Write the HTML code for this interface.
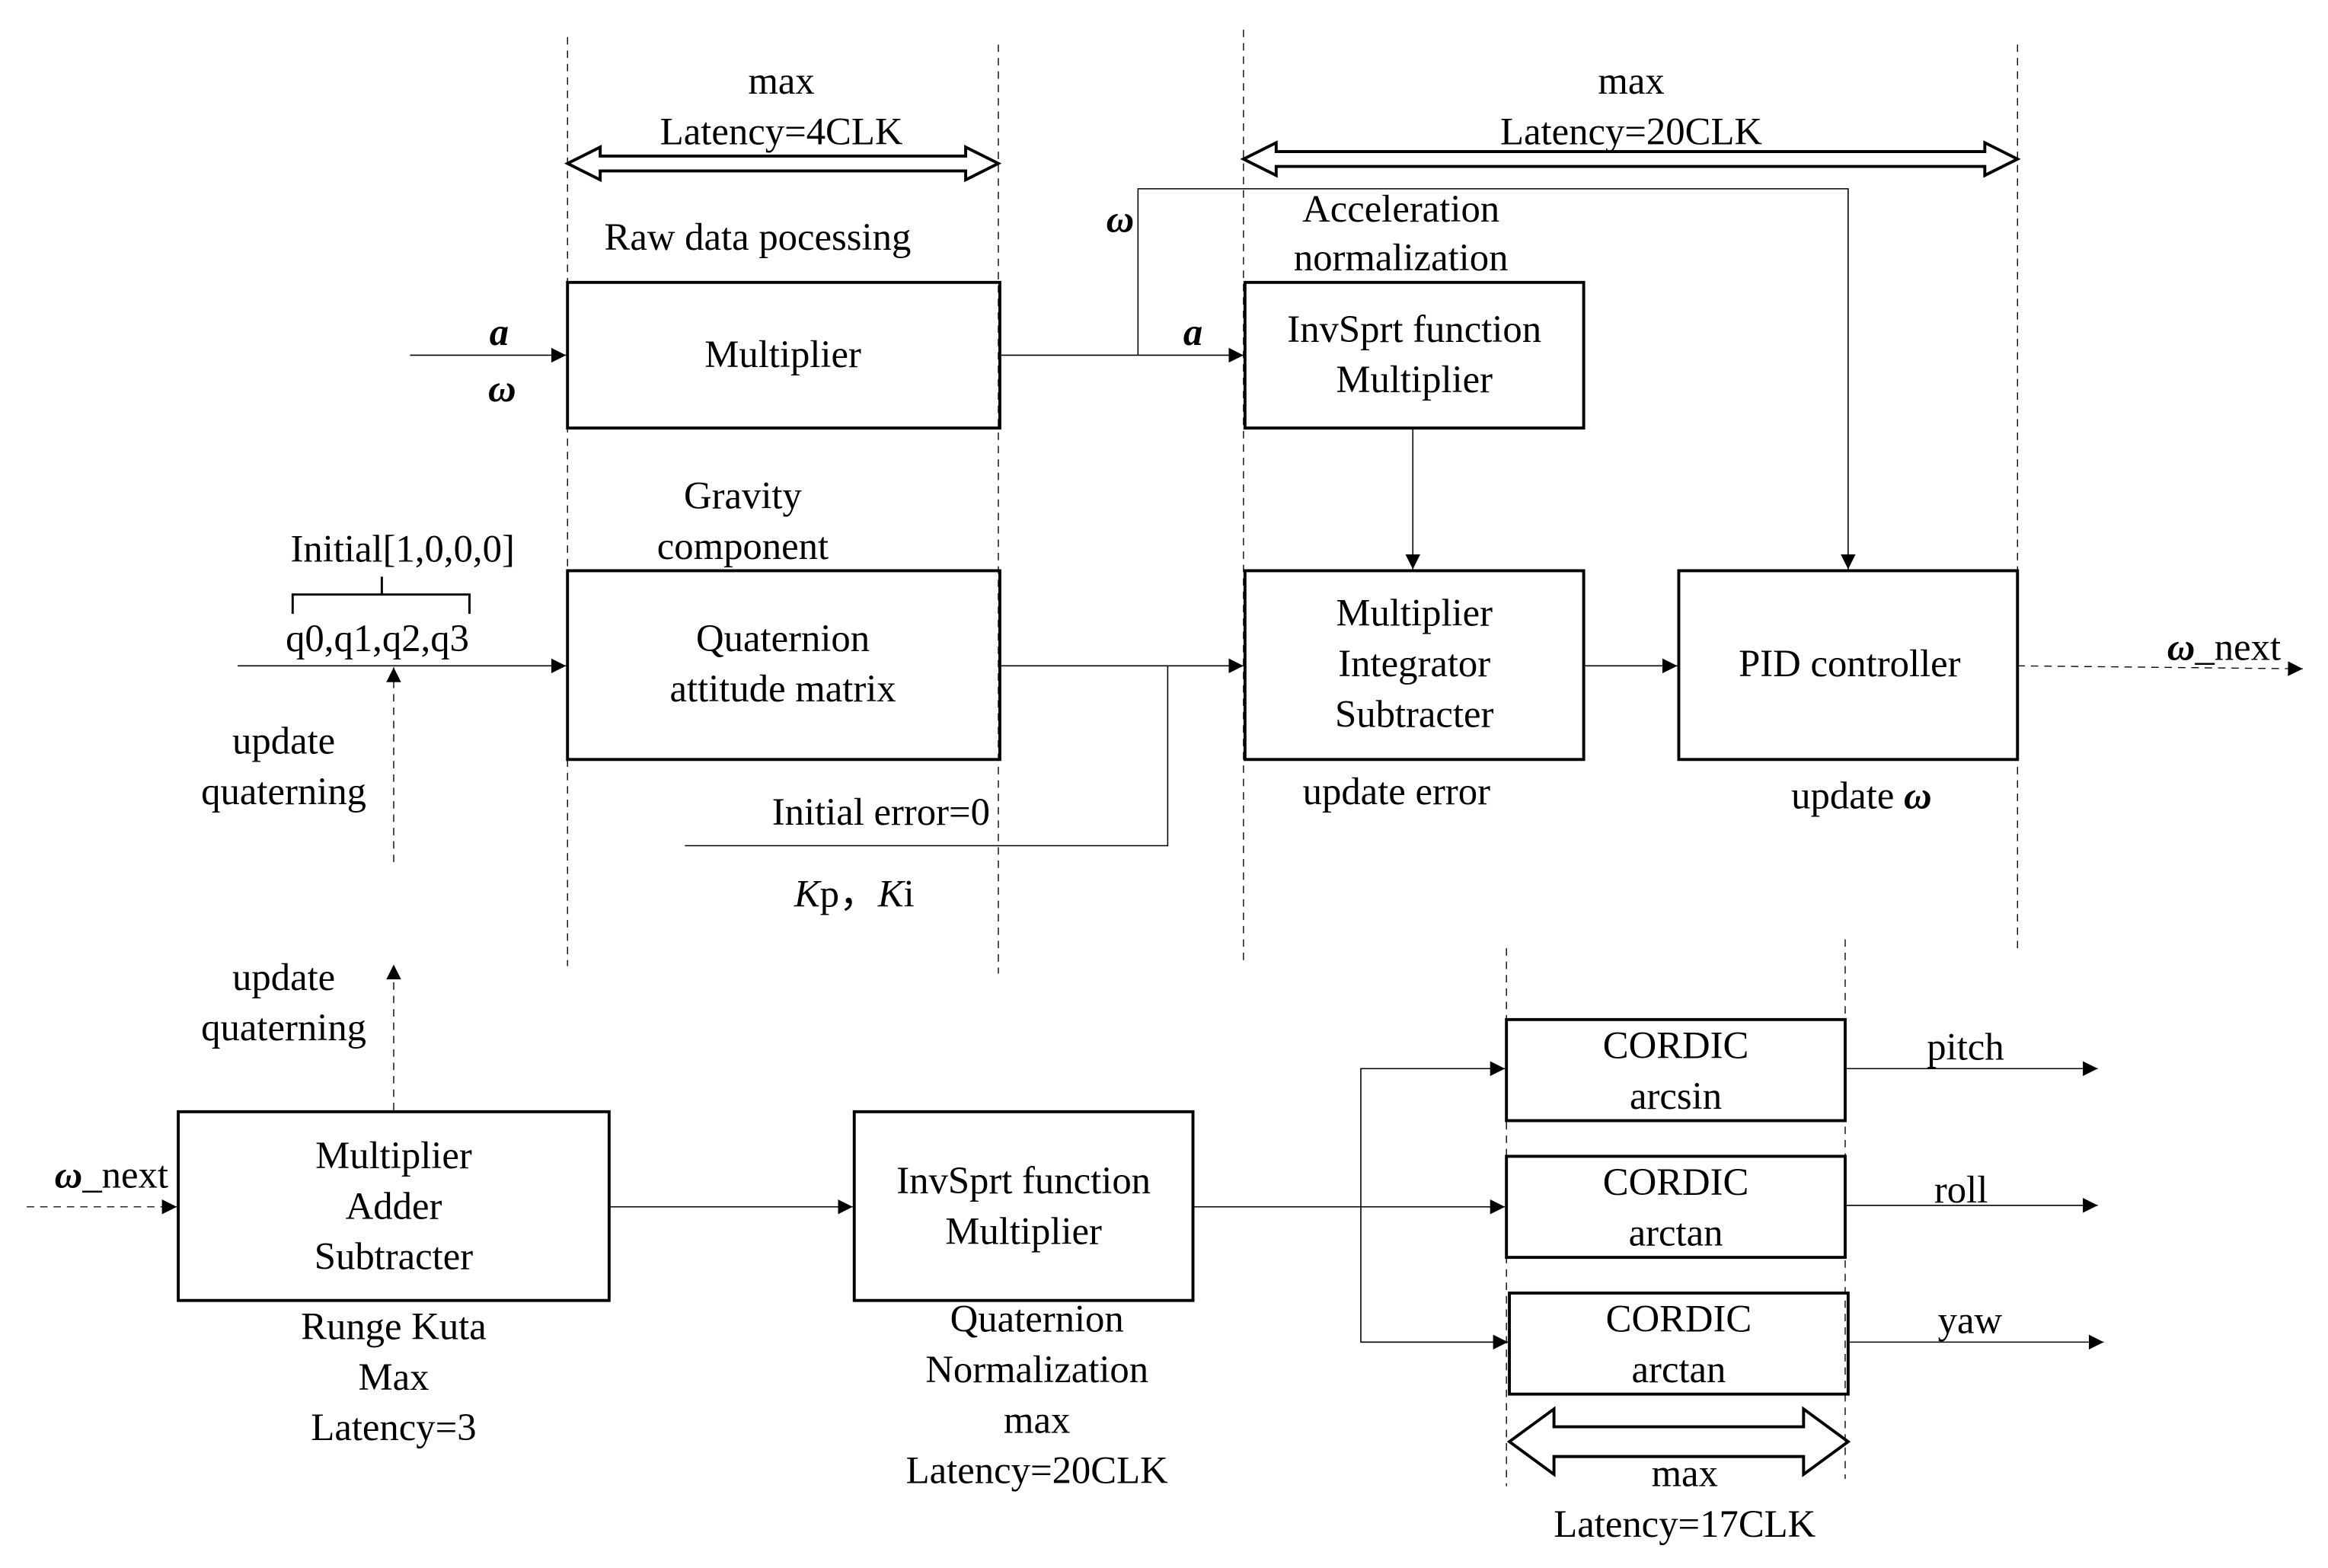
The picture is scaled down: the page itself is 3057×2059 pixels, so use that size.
<!DOCTYPE html>
<html><head><meta charset="utf-8"><style>html,body{margin:0;padding:0;background:#fff}svg{display:block}text{font-family:"Liberation Serif",serif;font-size:26px;text-anchor:middle;fill:#000}.bi{font-weight:bold;font-style:italic}</style></head>
<body>
<svg width="3057" height="2059" viewBox="0 0 1567 1055" preserveAspectRatio="none" xmlns="http://www.w3.org/2000/svg">
<defs><marker id="ah" viewBox="0 0 10 10" refX="10" refY="5" markerWidth="10" markerHeight="10" markerUnits="userSpaceOnUse" orient="auto"><path d="M0,0L10,5L0,10z" fill="#000"/></marker></defs>
<g stroke="#000" stroke-width="0.7" stroke-dasharray="5,4" fill="none">
<line x1="382" y1="25" x2="382" y2="650"/><line x1="672" y1="30" x2="672" y2="655"/>
<line x1="837" y1="20" x2="837" y2="648"/><line x1="1358" y1="30" x2="1358" y2="640"/>
<line x1="1014" y1="638" x2="1014" y2="1000"/><line x1="1242" y1="632" x2="1242" y2="995"/>
<line x1="265" y1="580" x2="265" y2="449" marker-end="url(#ah)"/>
<line x1="265" y1="747" x2="265" y2="649" marker-end="url(#ah)"/>
<line x1="1358" y1="448" x2="1550" y2="450" marker-end="url(#ah)"/>
<line x1="18" y1="812" x2="119" y2="812" marker-end="url(#ah)"/>
</g>
<g stroke="#000" stroke-width="2" fill="none">
<path d="M382,110 L404,99 L404,105 L650,105 L650,99 L672,110 L650,121 L650,115 L404,115 L404,121 Z"/>
<path d="M837,107 L859,96 L859,102 L1336,102 L1336,96 L1358,107 L1336,118 L1336,112 L859,112 L859,118 Z"/>
<path d="M1016,970 L1046,948 L1046,960 L1214,960 L1214,948 L1244,970 L1214,992 L1214,980 L1046,980 L1046,992 Z"/>
<rect x="382" y="190" width="291" height="98"/>
<rect x="838" y="190" width="228" height="98"/>
<rect x="382" y="384" width="291" height="127"/>
<rect x="838" y="384" width="228" height="127"/>
<rect x="1130" y="384" width="228" height="127"/>
<rect x="120" y="748" width="290" height="127"/>
<rect x="575" y="748" width="228" height="127"/>
<rect x="1014" y="686" width="228" height="68"/>
<rect x="1014" y="778" width="228" height="68"/>
<rect x="1016" y="870" width="228" height="68"/>
<path d="M197,413 V400 H316 V413 M257,400 V388" stroke-width="1.5"/>
</g>
<g stroke="#000" stroke-width="0.8" fill="none">
<line x1="276" y1="239" x2="381" y2="239" marker-end="url(#ah)"/>
<line x1="673" y1="239" x2="837" y2="239" marker-end="url(#ah)"/>
<path d="M766,239 V127 H1244 V383" marker-end="url(#ah)"/>
<line x1="951" y1="288" x2="951" y2="383" marker-end="url(#ah)"/>
<line x1="160" y1="448" x2="381" y2="448" marker-end="url(#ah)"/>
<line x1="673" y1="448" x2="837" y2="448" marker-end="url(#ah)"/>
<path d="M461,569 H786 V448"/>
<line x1="1066" y1="448" x2="1129" y2="448" marker-end="url(#ah)"/>
<line x1="410" y1="812" x2="574" y2="812" marker-end="url(#ah)"/>
<line x1="803" y1="812" x2="1013" y2="812" marker-end="url(#ah)"/>
<path d="M1013,719 H916 V903 H1015" />
<line x1="916" y1="719" x2="1013" y2="719" marker-end="url(#ah)"/>
<line x1="916" y1="903" x2="1015" y2="903" marker-end="url(#ah)"/>
<line x1="1242" y1="719" x2="1412" y2="719" marker-end="url(#ah)"/>
<line x1="1242" y1="811" x2="1412" y2="811" marker-end="url(#ah)"/>
<line x1="1244" y1="903" x2="1416" y2="903" marker-end="url(#ah)"/>
</g>
<text x="526" y="63">max</text><text x="526" y="97">Latency=4CLK</text>
<text x="1098" y="63">max</text><text x="1098" y="97">Latency=20CLK</text>
<text x="510" y="168">Raw data pocessing</text>
<text x="754" y="156" class="bi">ω</text>
<text x="943" y="149">Acceleration</text><text x="943" y="182">normalization</text>
<text x="336" y="232" class="bi">a</text><text x="338" y="270" class="bi">ω</text>
<text x="527" y="247">Multiplier</text>
<text x="803" y="232" class="bi">a</text>
<text x="952" y="230">InvSprt function</text><text x="952" y="264">Multiplier</text>
<text x="500" y="342">Gravity</text><text x="500" y="376">component</text>
<text x="271" y="378">Initial[1,0,0,0]</text>
<text x="254" y="438">q0,q1,q2,q3</text>
<text x="527" y="438">Quaternion</text><text x="527" y="472">attitude matrix</text>
<text x="593" y="555">Initial error=0</text>
<text x="575" y="610"><tspan font-style="italic">K</tspan>p，<tspan font-style="italic">K</tspan>i</text>
<text x="952" y="421">Multiplier</text><text x="952" y="455">Integrator</text><text x="952" y="489">Subtracter</text>
<text x="1245" y="455">PID controller</text>
<text x="1497" y="444"><tspan class="bi">ω</tspan>_next</text>
<text x="940" y="541">update error</text>
<text x="1253" y="544">update <tspan class="bi">ω</tspan></text>
<text x="191" y="507">update</text><text x="191" y="541">quaterning</text>
<text x="191" y="666">update</text><text x="191" y="700">quaterning</text>
<text x="265" y="786">Multiplier</text><text x="265" y="820">Adder</text><text x="265" y="854">Subtracter</text>
<text x="75" y="799"><tspan class="bi">ω</tspan>_next</text>
<text x="689" y="803">InvSprt function</text><text x="689" y="837">Multiplier</text>
<text x="1128" y="712">CORDIC</text><text x="1128" y="746">arcsin</text>
<text x="1128" y="804">CORDIC</text><text x="1128" y="838">arctan</text>
<text x="1130" y="896">CORDIC</text><text x="1130" y="930">arctan</text>
<text x="1323" y="713">pitch</text><text x="1320" y="809">roll</text><text x="1326" y="897">yaw</text>
<text x="265" y="901">Runge Kuta</text><text x="265" y="935">Max</text><text x="265" y="969">Latency=3</text>
<text x="698" y="896">Quaternion</text><text x="698" y="930">Normalization</text><text x="698" y="964">max</text><text x="698" y="998">Latency=20CLK</text>
<text x="1134" y="1000">max</text><text x="1134" y="1034">Latency=17CLK</text>
</svg>
</body></html>
